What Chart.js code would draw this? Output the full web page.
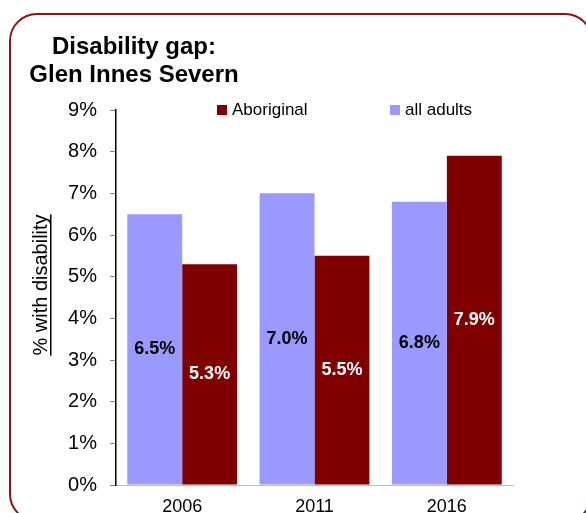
<!DOCTYPE html>
<html><head><meta charset="utf-8">
<script src="https://cdn.jsdelivr.net/npm/chart.js@4"></script>
<style>
html,body{margin:0;padding:0;background:#fff;overflow:hidden}
#wrap{position:relative;width:586px;height:513px;overflow:hidden}
#frame{position:absolute;left:9px;top:12.5px;width:584px;height:509px;border:2.5px solid #8B1414;border-radius:28px;box-sizing:border-box;pointer-events:none}
canvas{position:absolute;left:0;top:0}
</style></head>
<body><div id="wrap"><canvas id="c" width="586" height="513"></canvas><div id="frame"></div></div>
<script>
const categories = ['2006', '2011', '2016'];
const allAdults = [6.5, 7.0, 6.8];
const aboriginal = [5.3, 5.5, 7.9];
const yTicks = [0,1,2,3,4,5,6,7,8,9];
const titleLines = ['Disability gap:', 'Glen Innes Severn'];
const yTitle = '% with disability';
const FONT = "'Liberation Sans', Arial, sans-serif";

const decor = {
  id: 'decor',
  afterDraw(chart) {
    const ctx = chart.ctx;
    ctx.save();
    // title
    ctx.fillStyle = '#000';
    ctx.font = 'bold 24px ' + FONT;
    ctx.textAlign = 'center';
    ctx.textBaseline = 'middle';
    ctx.fillText(titleLines[0], 134, 47);
    ctx.fillText(titleLines[1], 134, 75);
    // y axis title, underlined
    ctx.translate(41, 285);
    ctx.rotate(-Math.PI/2);
    ctx.font = '20px ' + FONT;
    ctx.fillText(yTitle, 0, 0);
    const w = ctx.measureText(yTitle).width;
    ctx.fillRect(-w/2, 9, w, 1.5);
    ctx.restore();
    // legend (order: Aboriginal, all adults)
    ctx.save();
    ctx.font = '17px ' + FONT;
    ctx.textBaseline = 'middle';
    ctx.textAlign = 'left';
    const ds = chart.data.datasets;
    const items = [[ds[1], 217], [ds[0], 390]];
    items.forEach(([d, x]) => {
      ctx.fillStyle = d.backgroundColor;
      ctx.fillRect(x, 105, 10, 10);
      ctx.fillStyle = '#000';
      ctx.fillText(d.label, x + 15, 110);
    });
    ctx.restore();
    // value labels inside bars
    ctx.save();
    ctx.font = 'bold 18px ' + FONT;
    ctx.textAlign = 'center';
    ctx.textBaseline = 'middle';
    ds.forEach((d, i) => {
      const meta = chart.getDatasetMeta(i);
      meta.data.forEach((bar, j) => {
        const mid = (bar.y + bar.base) / 2;
        ctx.fillStyle = i === 0 ? '#000' : '#fff';
        ctx.fillText(d.data[j].toFixed(1) + '%', bar.x, mid);
      });
    });
    ctx.restore();
  }
};

new Chart(document.getElementById('c'), {
  type: 'bar',
  data: {
    labels: categories,
    datasets: [
      { label: 'all adults', data: allAdults, backgroundColor: '#9999FF', borderWidth: 0 },
      { label: 'Aboriginal', data: aboriginal, backgroundColor: '#800000', borderWidth: 0 }
    ]
  },
  options: {
    responsive: false,
    animation: false,
    devicePixelRatio: 1,
    layout: { padding: { left: 0, right: 73, top: 110, bottom: 0 } },
    plugins: { legend: { display: false }, title: { display: false }, tooltip: { enabled: false } },
    datasets: { bar: { categoryPercentage: 0.83, barPercentage: 1.0 } },
    scales: {
      x: {
        grid: { display: false, drawTicks: false },
        border: { display: true, color: '#bbbbbb' },
        ticks: { color: '#000', font: { family: FONT, size: 18 }, padding: 11 },
        afterFit(s) { s.height = 28; }
      },
      y: {
        min: 0, max: 9,
        afterBuildTicks(s) { s.ticks = yTicks.map(v => ({ value: v })); },
        grid: { drawOnChartArea: false, drawTicks: true, tickLength: 6, color: '#888' },
        border: { display: true, color: '#000', width: 1.5 },
        ticks: { color: '#000', font: { family: FONT, size: 20 }, padding: 13, callback: v => v + '%' },
        afterFit(s) { s.width = 116; }
      }
    }
  },
  plugins: [decor]
});
</script></body></html>
